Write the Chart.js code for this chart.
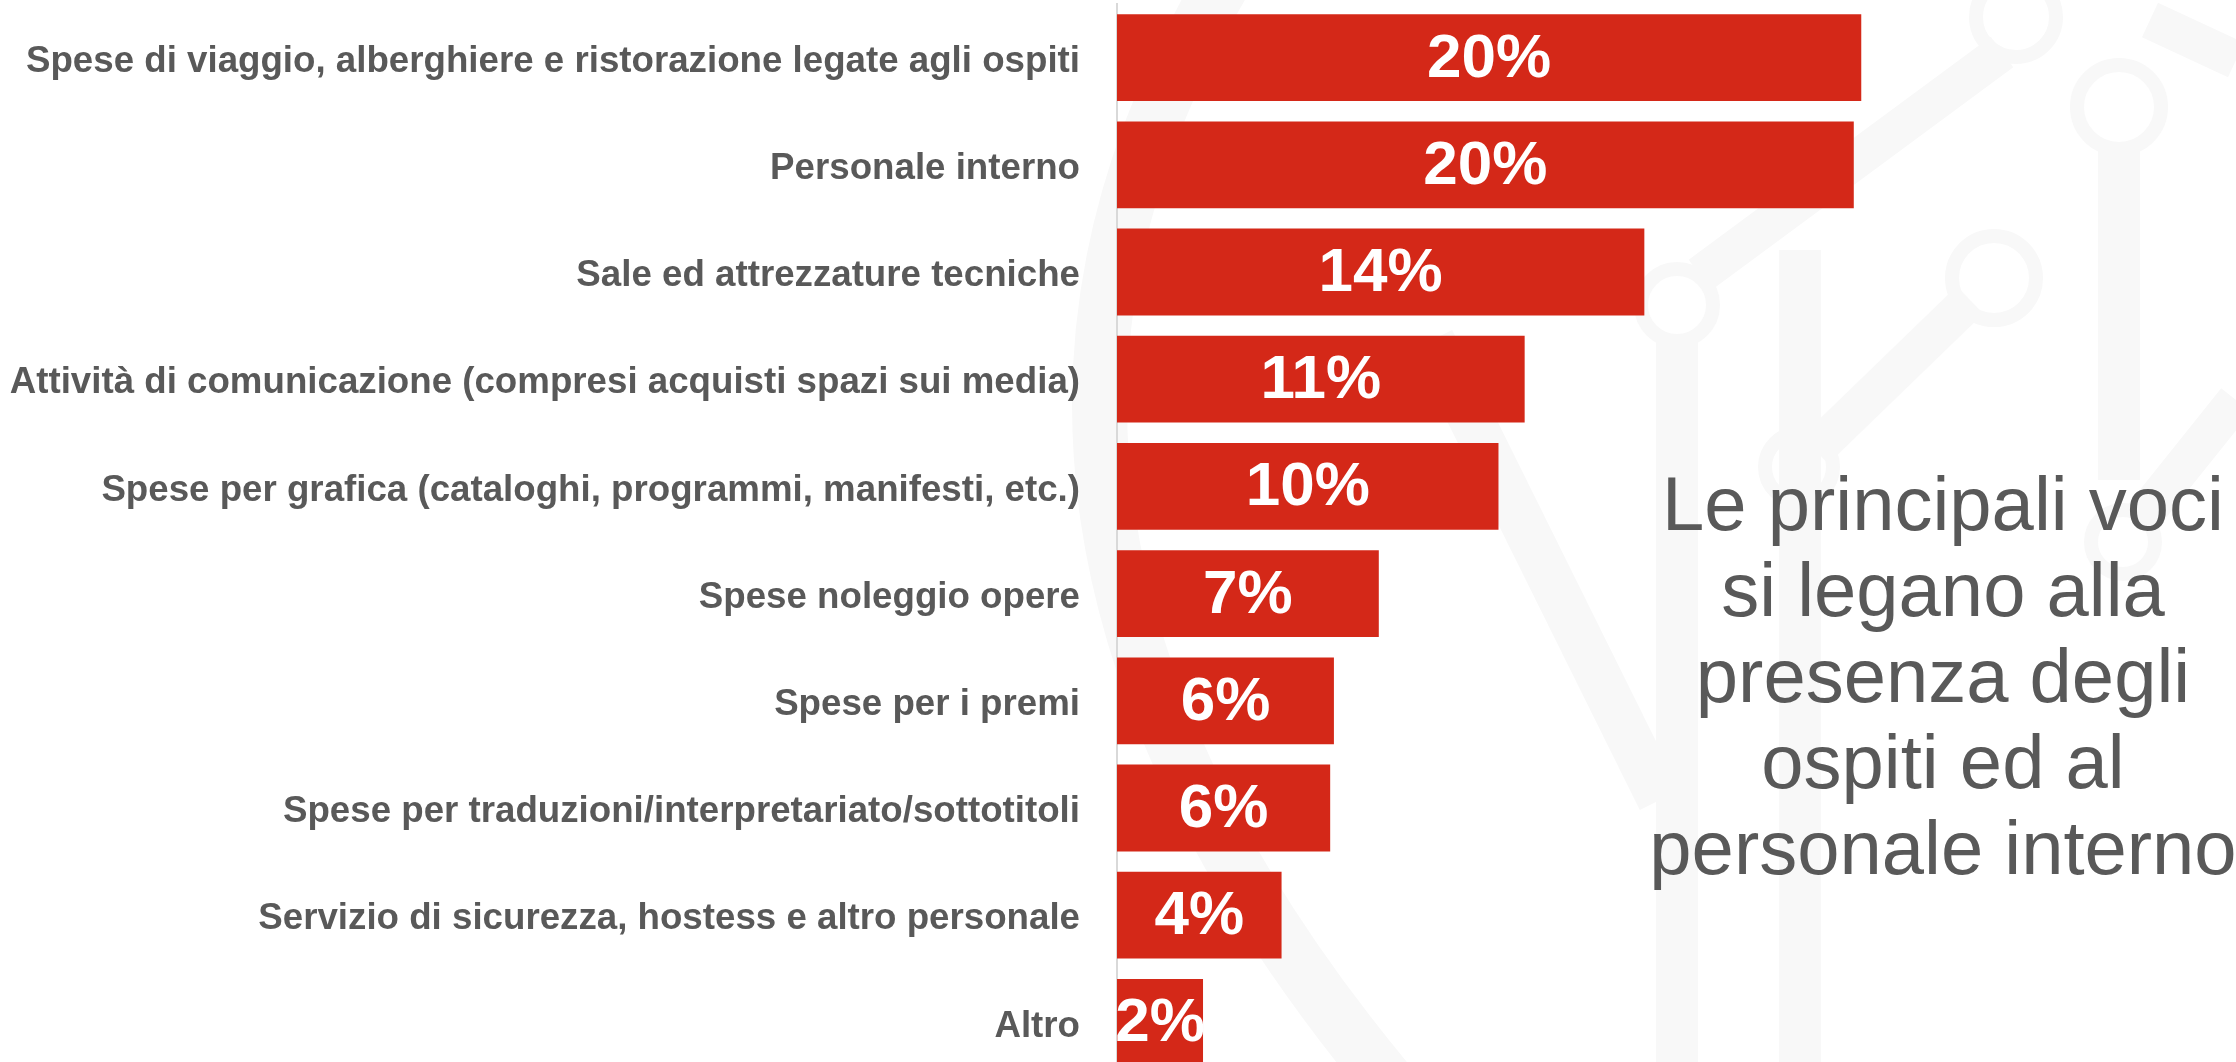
<!DOCTYPE html>
<html lang="it">
<head>
<meta charset="utf-8">
<script src="https://cdn.jsdelivr.net/npm/chart.js@4.4.1/dist/chart.umd.min.js"></script>
<style>
  html, body { margin: 0; padding: 0; background: #ffffff; overflow: hidden; width: 2236px; height: 1062px; }
  #deco { position: absolute; left: 0; top: 0; }
  #wrap { position: absolute; left: 0; top: 0; width: 2236px; height: 1080px; }
  #note {
    position: absolute; left: 1643px; top: 461px; width: 600px;
    font-family: "Liberation Sans", Arial, sans-serif; font-size: 76px; line-height: 86px;
    color: #595959; text-align: center; white-space: nowrap;
  }
</style>
</head>
<body>
<svg id="deco" width="2236" height="1062" viewBox="0 0 2236 1062">
  <g fill="none" stroke="#f8f8f8" stroke-linecap="butt">
    <path d="M1250,-60 Q880,500 1420,1120" stroke-width="55"/>
    <line x1="1432" y1="340" x2="1660" y2="800" stroke-width="45"/>
    <line x1="1677" y1="335" x2="1677" y2="1062" stroke-width="42"/>
    <line x1="1800" y1="250" x2="1800" y2="1062" stroke-width="42"/>
    <line x1="2119" y1="149" x2="2119" y2="480" stroke-width="42"/>
    <line x1="2002" y1="52" x2="1700" y2="275" stroke-width="38"/>
    <line x1="1970" y1="300" x2="1815" y2="450" stroke-width="38"/>
    <line x1="2236" y1="60" x2="2150" y2="20" stroke-width="38"/>
    <line x1="2236" y1="400" x2="2140" y2="520" stroke-width="38"/>
    <circle cx="2016" cy="17" r="40" stroke-width="14"/>
    <circle cx="2119" cy="107" r="42" stroke-width="14"/>
    <circle cx="1677" cy="305" r="36" stroke-width="14"/>
    <circle cx="1994" cy="278" r="42" stroke-width="14"/>
    <circle cx="1799" cy="467" r="34" stroke-width="14"/>
    <circle cx="2123" cy="542" r="32" stroke-width="14"/>
  </g>
</svg>
<div id="wrap"><canvas id="c" width="2236" height="1080"></canvas></div>
<div id="note">Le principali voci<br>si legano alla<br>presenza degli<br>ospiti ed al<br>personale interno</div>
<script>
const categories = [
  "Spese di viaggio, alberghiere e ristorazione legate agli ospiti",
  "Personale interno",
  "Sale ed attrezzature tecniche",
  "Attività di comunicazione (compresi acquisti spazi sui media)",
  "Spese per grafica (cataloghi, programmi, manifesti, etc.)",
  "Spese noleggio opere",
  "Spese per i premi",
  "Spese per traduzioni/interpretariato/sottotitoli",
  "Servizio di sicurezza, hostess e altro personale",
  "Altro"
];
const shares = [19.9, 19.7, 14.1, 10.9, 10.2, 7.0, 5.8, 5.7, 4.4, 2.3];
const axisMax = 29;

const barLabels = {
  id: 'barLabels',
  afterDatasetsDraw(chart) {
    const ctx = chart.ctx;
    const meta = chart.getDatasetMeta(0);
    ctx.save();
    ctx.fillStyle = '#ffffff';
    ctx.font = 'bold 62px "Liberation Sans", Arial, sans-serif';
    ctx.textAlign = 'center';
    ctx.textBaseline = 'middle';
    meta.data.forEach((bar, i) => {
      const p = bar.getProps(['x', 'y', 'base'], true);
      const v = chart.data.datasets[0].data[i];
      ctx.fillText(Math.round(v) + '%', (p.x + p.base) / 2, p.y + 2);
    });
    ctx.restore();
  }
};

new Chart(document.getElementById('c'), {
  type: 'bar',
  data: {
    labels: categories,
    datasets: [{
      data: shares,
      backgroundColor: '#D42818',
      borderWidth: 0,
      categoryPercentage: 1.0,
      barPercentage: 0.81
    }]
  },
  options: {
    indexAxis: 'y',
    responsive: false,
    animation: false,
    events: [],
    layout: { padding: { left: 0, right: 34.4, top: 4, bottom: 4 } },
    plugins: { legend: { display: false }, tooltip: { enabled: false } },
    scales: {
      x: { display: false, min: 0, max: axisMax },
      y: {
        grid: { display: false, drawTicks: false },
        border: { display: true, color: '#d9d9d9', width: 2 },
        ticks: {
          color: '#595959',
          padding: 37,
          labelOffset: 4,
          autoSkip: false,
          font: { family: '"Liberation Sans", Arial, sans-serif', size: 36.7, weight: 'bold' }
        },
        afterFit(scale) {
          scale.width = 1117;
          scale.paddingTop = 0;
          scale.paddingBottom = 0;
        }
      }
    }
  },
  plugins: [barLabels]
});
</script>
</body>
</html>
